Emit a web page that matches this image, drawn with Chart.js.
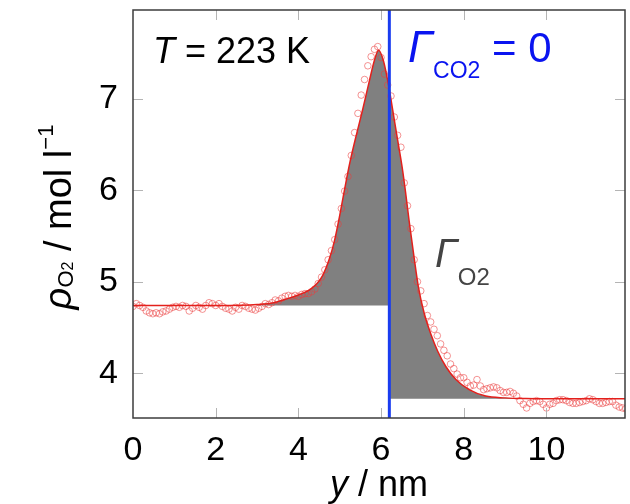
<!DOCTYPE html>
<html><head><meta charset="utf-8">
<script src="https://cdn.jsdelivr.net/npm/chart.js@4.4.1/dist/chart.umd.min.js"></script>
<style>html,body{margin:0;padding:0;background:#fff}#wrap{width:630px;height:504px}</style>
</head><body><div id="wrap"><canvas id="c" width="630" height="504"></canvas></div>
<script>
// ---- data ----
const xTicks = [0, 2, 4, 6, 8, 10];
const yTicks = [4, 5, 6, 7];
const xRange = [0, 11.9];
const yRange = [3.51, 7.97];

// simulated density profile (circles), sampled every profileStep nm from y = 0
const profileStep = 0.08;
const profileRho = [
  4.73,4.76,4.74,4.72,4.68,4.66,4.65,4.66,4.65,4.67,
  4.68,4.70,4.72,4.73,4.72,4.74,4.73,4.68,4.71,4.74,
  4.72,4.70,4.74,4.77,4.76,4.74,4.76,4.73,4.71,4.70,
  4.68,4.72,4.70,4.74,4.73,4.71,4.70,4.69,4.71,4.73,
  4.76,4.75,4.77,4.80,4.79,4.82,4.84,4.85,4.84,4.85,
  4.84,4.86,4.87,4.87,4.89,4.92,4.98,5.05,5.13,5.24,
  5.34,5.46,5.63,5.80,5.99,6.15,6.38,6.63,6.84,7.04,
  7.21,7.36,7.46,7.54,7.57,7.45,7.27,7.15,7.03,6.80,
  6.60,6.47,6.08,5.83,5.58,5.24,5.00,4.90,4.76,4.63,
  4.56,4.48,4.41,4.32,4.25,4.19,4.10,4.05,3.99,3.95,
  3.95,3.90,3.86,3.87,3.93,3.86,3.82,3.83,3.84,3.85,
  3.84,3.81,3.79,3.79,3.80,3.78,3.75,3.70,3.66,3.62,
  3.67,3.69,3.70,3.69,3.66,3.62,3.66,3.67,3.70,3.71,
  3.71,3.70,3.68,3.67,3.67,3.68,3.69,3.70,3.72,3.71,
  3.69,3.67,3.67,3.68,3.69,3.69,3.65,3.63,3.62,3.61
];

// fitted profile (red line)
const fitPos = [0, 1, 2, 2.6, 3.0, 3.4, 3.7, 4.0, 4.27, 4.45, 4.59, 4.75, 4.87, 4.99, 5.11, 5.24, 5.40, 5.56, 5.72, 5.84, 5.94, 6.06, 6.2, 6.28, 6.40, 6.52, 6.60, 6.68, 6.80, 6.90, 7.04, 7.21, 7.37, 7.57, 7.81, 8.13, 8.53, 9.0, 9.5, 10, 11, 11.9];
const fitRho = [4.74, 4.74, 4.74, 4.742, 4.75, 4.77, 4.81, 4.855, 4.91, 4.98, 5.07, 5.25, 5.44, 5.70, 5.99, 6.29, 6.60, 6.89, 7.20, 7.42, 7.53, 7.41, 7.10, 6.88, 6.55, 6.22, 5.95, 5.66, 5.26, 4.95, 4.66, 4.42, 4.24, 4.07, 3.93, 3.82, 3.75, 3.73, 3.722, 3.72, 3.72, 3.72];

const dividingSurface = 6.2;  // Gamma_CO2 = 0 position
const leftBulk = 4.74;
const rightBulk = 3.72;
const fillStart = 3.0;

// ---- build ----
const FAM = "'Liberation Sans', Arial, Helvetica, sans-serif";
const fitPts = fitPos.map((x, i) => ({x, y: fitRho[i]}));
const profPts = profileRho.map((y, i) => ({x: +(i * profileStep).toFixed(2), y}));
const leftFill = fitPts.filter(p => p.x >= fillStart && p.x <= dividingSurface);
const rightFill = fitPts.filter(p => p.x >= dividingSurface);

function rich(ctx, segs, x, y, align) {
  let w = 0;
  segs.forEach(s => { ctx.font = s.font; s.w = ctx.measureText(s.t).width; w += s.w; });
  let cx = align === 'center' ? x - w / 2 : x;
  segs.forEach(s => {
    ctx.font = s.font; ctx.fillStyle = s.color; ctx.textBaseline = 'alphabetic'; ctx.textAlign = 'left';
    ctx.fillText(s.t, cx, y + (s.dy || 0)); cx += s.w;
  });
}

const decor = {
  id: 'decor',
  afterDatasetsDraw(chart) {
    const {ctx, chartArea: a, scales: {x, y}} = chart;
    ctx.save();
    // tick marks (inward, all four sides)
    ctx.strokeStyle = '#b4b4b4'; ctx.lineWidth = 1;
    xTicks.forEach(v => {
      const px = Math.round(x.getPixelForValue(v)) + 0.5;
      if (px <= a.left + 2) return;
      ctx.beginPath(); ctx.moveTo(px, a.bottom); ctx.lineTo(px, a.bottom - 10);
      ctx.moveTo(px, a.top); ctx.lineTo(px, a.top + 10); ctx.stroke();
    });
    yTicks.forEach(v => {
      const py = Math.round(y.getPixelForValue(v)) + 0.5;
      ctx.beginPath(); ctx.moveTo(a.left, py); ctx.lineTo(a.left + 10, py);
      ctx.moveTo(a.right, py); ctx.lineTo(a.right - 10, py); ctx.stroke();
    });
    // dividing surface
    const dx = x.getPixelForValue(dividingSurface);
    ctx.strokeStyle = '#1a3cf0'; ctx.lineWidth = 3;
    ctx.beginPath(); ctx.moveTo(dx, a.top); ctx.lineTo(dx, a.bottom); ctx.stroke();
    // frame
    ctx.strokeStyle = '#3c3c3c'; ctx.lineWidth = 1.5;
    ctx.strokeRect(a.left, a.top, a.right - a.left, a.bottom - a.top);
    // annotations
    rich(ctx, [
      {t: 'T', font: 'italic 36px ' + FAM, color: '#000'},
      {t: ' = 223 K', font: '36px ' + FAM, color: '#000'}
    ], 153, 63, 'left');
    rich(ctx, [
      {t: '\u0393', font: 'italic 44px ' + FAM, color: '#0a14f0'},
      {t: 'CO2', font: '23px ' + FAM, color: '#0a14f0', dy: 16},
      {t: ' = 0', font: '42px ' + FAM, color: '#0a14f0'}
    ], 408, 62, 'left');
    rich(ctx, [
      {t: '\u0393', font: 'italic 40px ' + FAM, color: '#444'},
      {t: 'O2', font: '24px ' + FAM, color: '#444', dy: 18}
    ], 435, 267, 'left');
    // x title
    rich(ctx, [
      {t: 'y', font: 'italic 36px ' + FAM, color: '#000'},
      {t: ' / nm', font: '36px ' + FAM, color: '#000'}
    ], (a.left + a.right) / 2, 496, 'center');
    // y title (rotated)
    ctx.translate(71, 217); ctx.rotate(-Math.PI / 2);
    rich(ctx, [
      {t: '\u03C1', font: 'italic 38px ' + FAM, color: '#000'},
      {t: 'O', font: '22px ' + FAM, color: '#000', dy: 2},
      {t: '2', font: '16px ' + FAM, color: '#000', dy: 2},
      {t: ' / mol l', font: '38px ' + FAM, color: '#000'},
      {t: '\u22121', font: '22px ' + FAM, color: '#000', dy: -18}
    ], 0, 0, 'center');
    ctx.restore();
  }
};

function noPad(s) { s.paddingTop = 0; s.paddingBottom = 0; s.paddingLeft = 0; s.paddingRight = 0; }

new Chart(document.getElementById('c'), {
  type: 'line',
  data: {
    datasets: [
      {data: leftFill, showLine: true, borderWidth: 0, pointRadius: 0, backgroundColor: '#808080',
       fill: {value: leftBulk}, cubicInterpolationMode: 'monotone', order: 5},
      {data: rightFill, showLine: true, borderWidth: 0, pointRadius: 0, backgroundColor: '#808080',
       fill: {value: rightBulk}, cubicInterpolationMode: 'monotone', order: 5},
      {data: profPts, showLine: false, pointRadius: 3.3, pointStyle: 'circle', pointBorderWidth: 1,
       pointBorderColor: 'rgba(235,60,60,0.55)', pointBackgroundColor: 'rgba(0,0,0,0)', order: 3},
      {data: fitPts, borderColor: '#e3201c', borderWidth: 1.5, pointRadius: 0, fill: false,
       cubicInterpolationMode: 'monotone', order: 2}
    ]
  },
  options: {
    responsive: false, animation: false, devicePixelRatio: 1,
    layout: {padding: {top: 10, right: 3, left: 0, bottom: 0}},
    plugins: {legend: {display: false}, tooltip: {enabled: false}},
    scales: {
      x: {type: 'linear', min: xRange[0], max: xRange[1],
          afterBuildTicks: s => { s.ticks = xTicks.map(v => ({value: v})); },
          afterFit: s => { s.height = 86; noPad(s); },
          grid: {display: false, drawTicks: false}, border: {display: false},
          ticks: {font: {size: 34, family: FAM}, color: '#000', padding: 12, maxRotation: 0, autoSkip: false}},
      y: {type: 'linear', min: yRange[0], max: yRange[1],
          afterBuildTicks: s => { s.ticks = yTicks.map(v => ({value: v})); },
          afterFit: s => { s.width = 133; noPad(s); },
          grid: {display: false, drawTicks: false}, border: {display: false},
          ticks: {font: {size: 34, family: FAM}, color: '#000', padding: 15, autoSkip: false}}
    }
  },
  plugins: [decor]
});
</script></body></html>
